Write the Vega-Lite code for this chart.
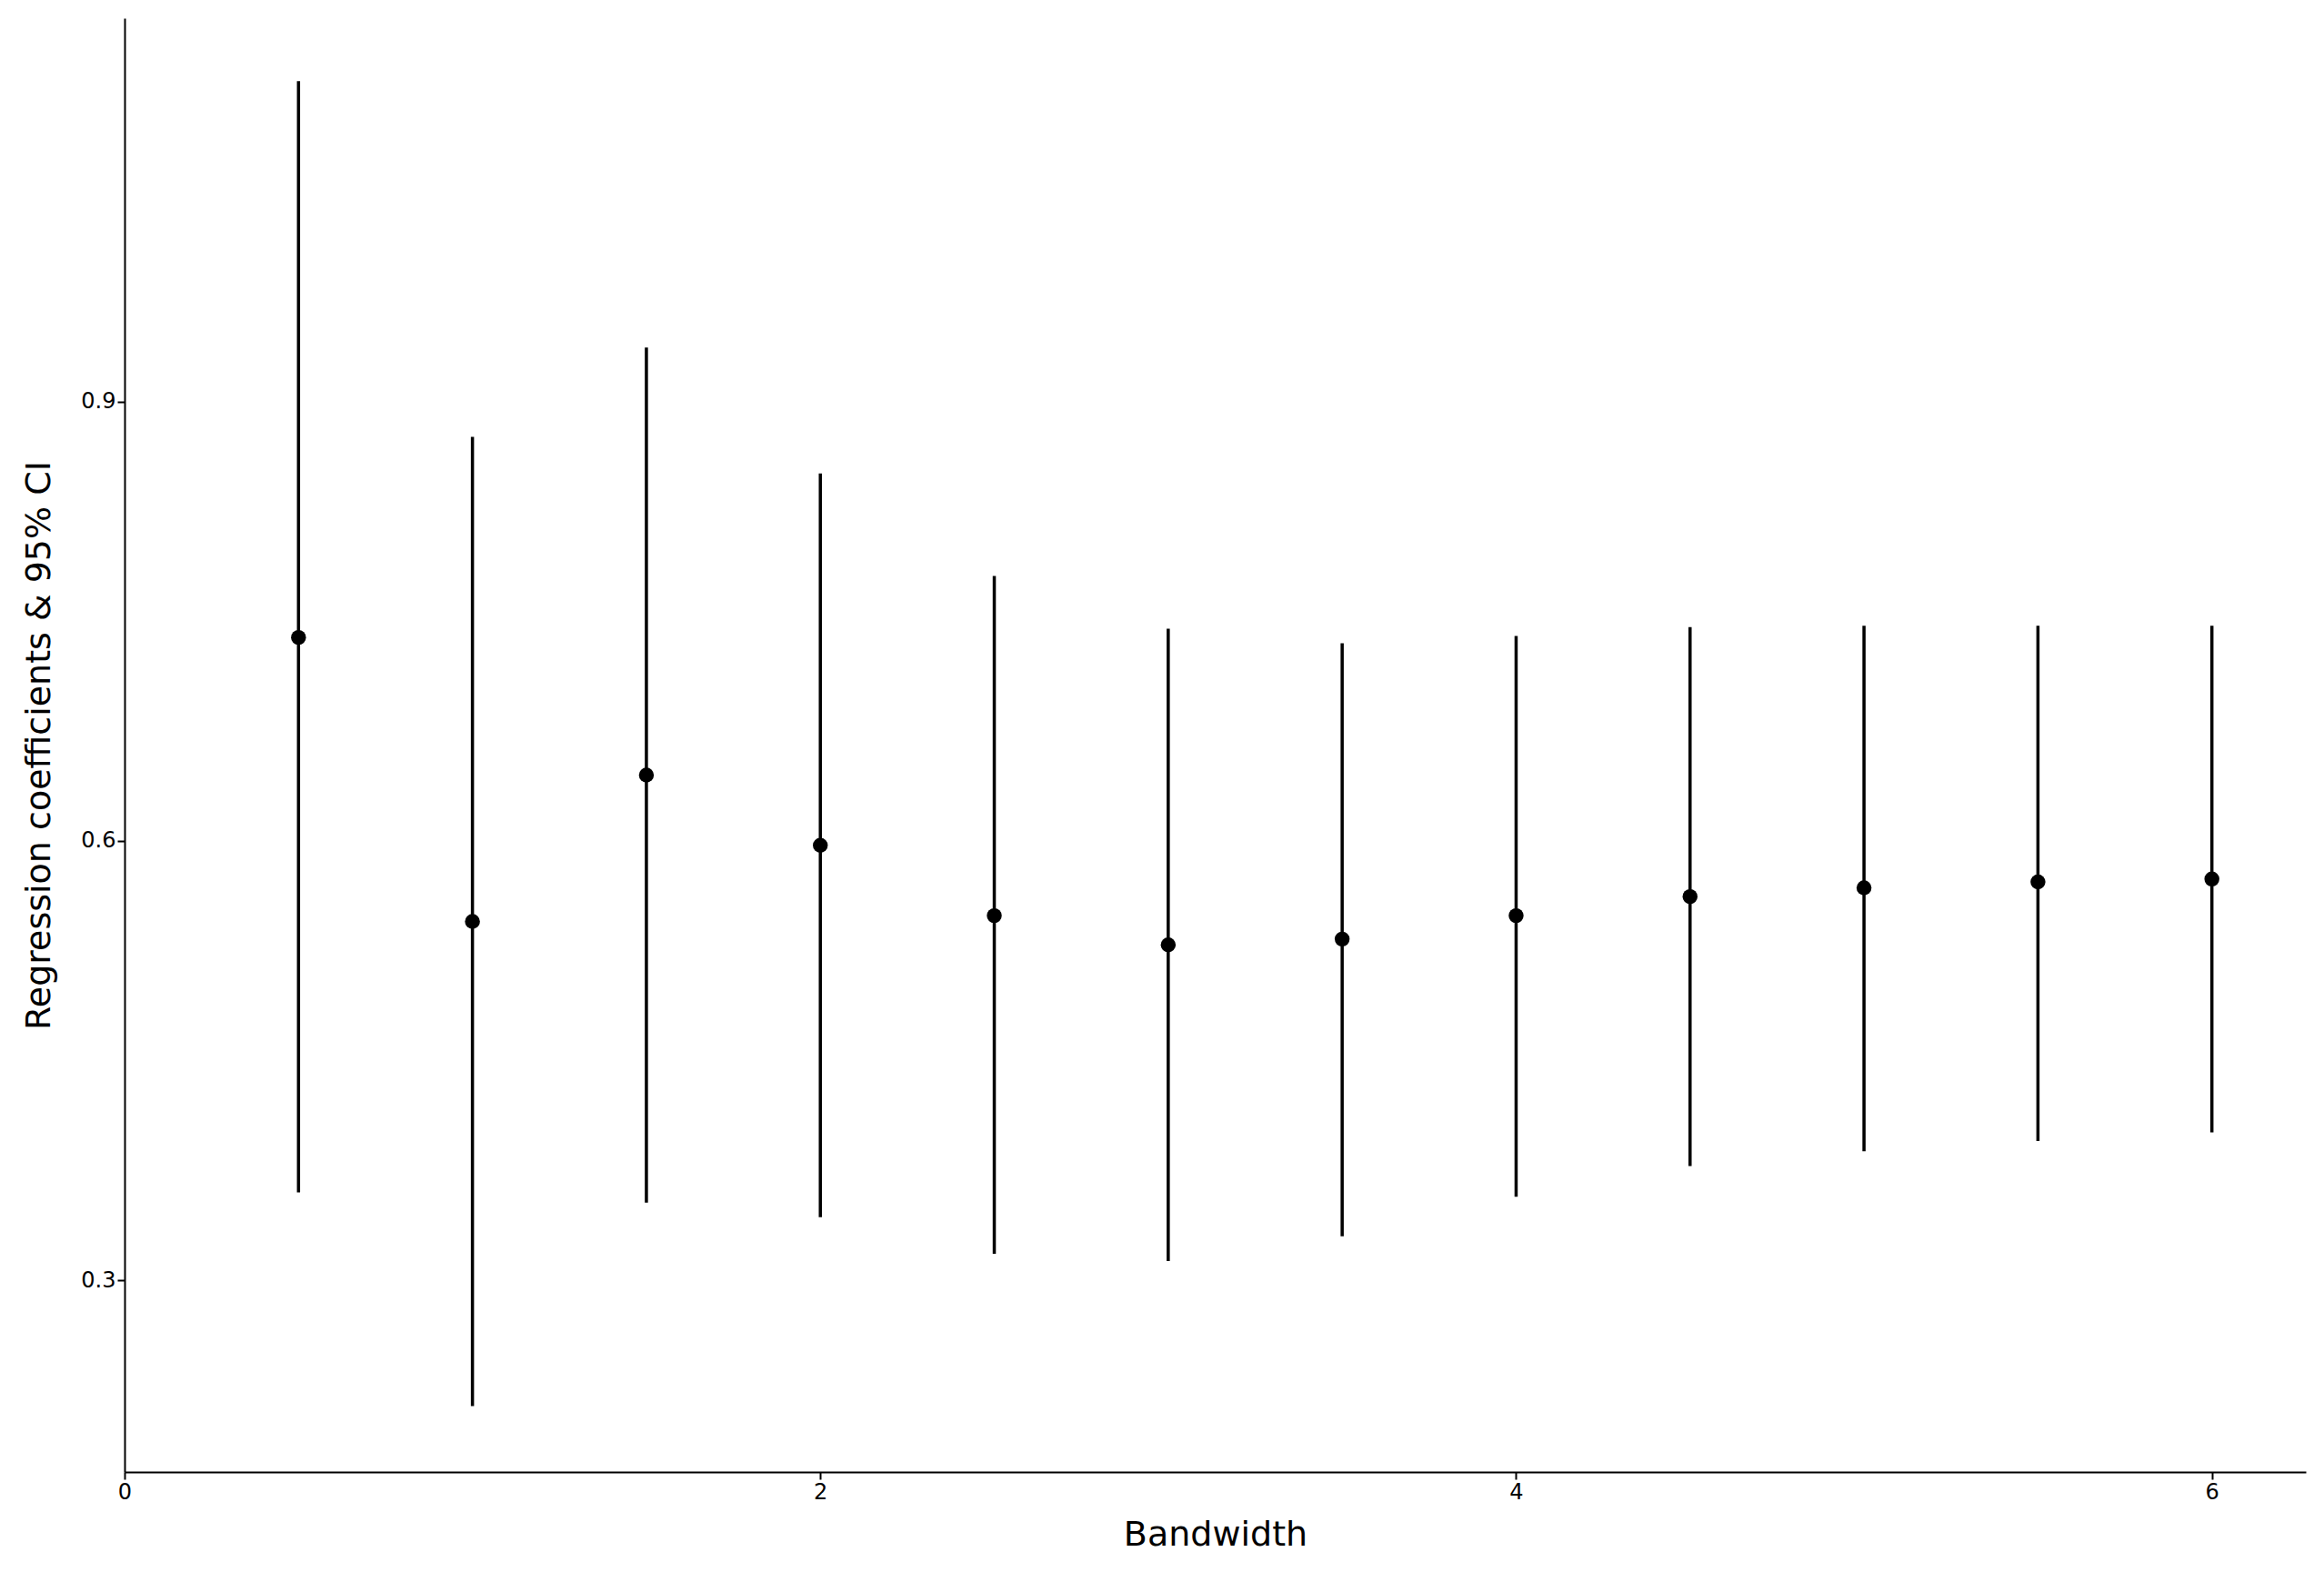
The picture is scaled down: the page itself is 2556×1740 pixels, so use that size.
{
  "$schema": "https://vega.github.io/schema/vega-lite/v6.json",
  "width": 2399,
  "height": 1599,
  "autosize": {"type": "none"},
  "padding": {"left": 137, "top": 20, "right": 20, "bottom": 121},
  "background": "white",
  "data": {"values": [
    {"bw": 0.5, "coef": 0.739, "lo": 0.360, "hi": 1.119},
    {"bw": 1.0, "coef": 0.545, "lo": 0.214, "hi": 0.876},
    {"bw": 1.5, "coef": 0.645, "lo": 0.353, "hi": 0.937},
    {"bw": 2.0, "coef": 0.597, "lo": 0.343, "hi": 0.851},
    {"bw": 2.5, "coef": 0.549, "lo": 0.318, "hi": 0.781},
    {"bw": 3.0, "coef": 0.529, "lo": 0.313, "hi": 0.745},
    {"bw": 3.5, "coef": 0.533, "lo": 0.330, "hi": 0.735},
    {"bw": 4.0, "coef": 0.549, "lo": 0.357, "hi": 0.740},
    {"bw": 4.5, "coef": 0.562, "lo": 0.378, "hi": 0.746},
    {"bw": 5.0, "coef": 0.568, "lo": 0.388, "hi": 0.747},
    {"bw": 5.5, "coef": 0.572, "lo": 0.395, "hi": 0.747},
    {"bw": 6.0, "coef": 0.574, "lo": 0.401, "hi": 0.747}
  ]},
  "encoding": {
    "x": {"field": "bw", "type": "quantitative", "title": "Bandwidth",
      "scale": {"domain": [0, 6.27], "nice": false, "zero": false},
      "axis": {"values": [0, 2, 4, 6], "grid": false, "labelFlush": false, "labelFontSize": 24, "titleFontSize": 38, "titleFontWeight": "normal", "titlePadding": 16, "tickSize": 8, "tickWidth": 2, "domainWidth": 2, "domainColor": "black", "tickColor": "black", "labelColor": "black", "titleColor": "black", "labelFont": "DejaVu Sans", "titleFont": "DejaVu Sans"}}
  },
  "layer": [
    {
      "mark": {"type": "rule", "color": "black", "strokeWidth": 3.5},
      "encoding": {
        "y": {"field": "lo", "type": "quantitative"},
        "y2": {"field": "hi"}
      }
    },
    {
      "mark": {"type": "point", "filled": true, "color": "black", "opacity": 1, "size": 270},
      "encoding": {
        "y": {"field": "coef", "type": "quantitative", "title": "Regression coefficients & 95% CI",
          "scale": {"domain": [0.169, 1.162], "nice": false, "zero": false},
          "axis": {"values": [0.3, 0.6, 0.9], "format": ".1f", "grid": false, "labelFlush": false, "labelFontSize": 24, "titleFontSize": 38, "titleFontWeight": "normal", "titlePadding": 26, "tickSize": 8, "tickWidth": 2, "domainWidth": 2, "domainColor": "black", "tickColor": "black", "labelColor": "black", "titleColor": "black", "labelFont": "DejaVu Sans", "titleFont": "DejaVu Sans"}}
      }
    }
  ],
  "config": {"view": {"stroke": null}}
}
